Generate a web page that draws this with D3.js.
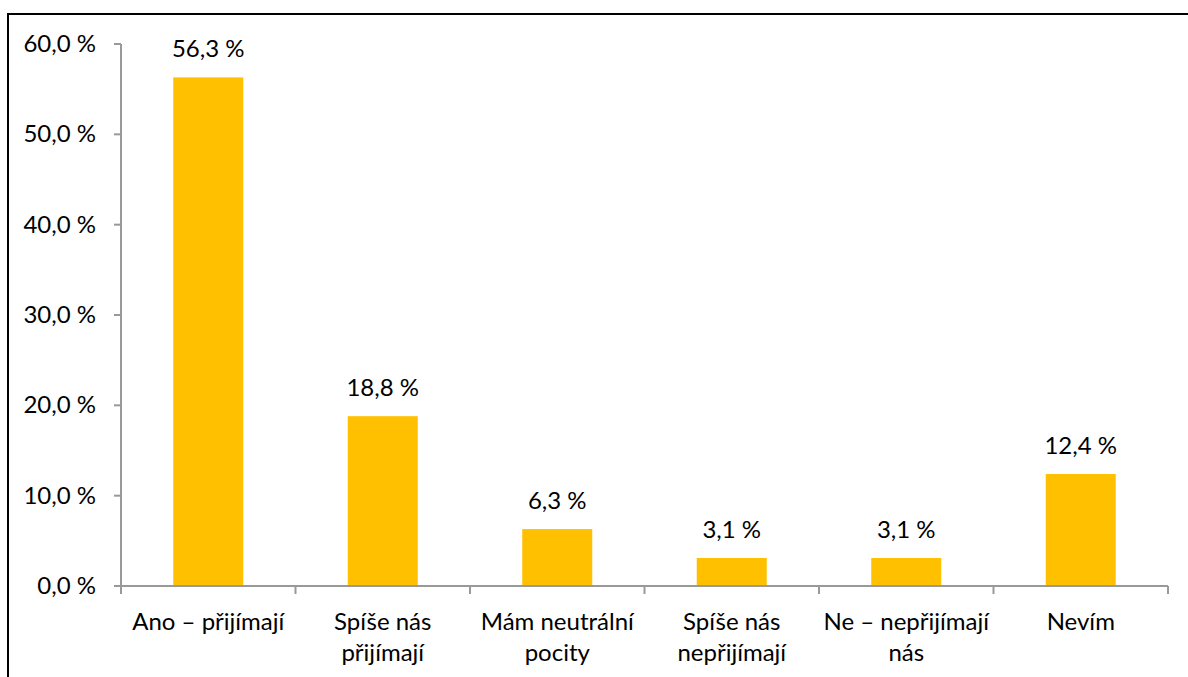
<!DOCTYPE html>
<head>
    <meta charset="utf-8">
    <script src="https://cdn.jsdelivr.net/npm/d3@7"></script>
    <style type="text/css">
     body { margin: 0; background: #fff; }
     text { font-family: Lato, "Open Sans", sans-serif; fill: #000; }
    </style>
</head>
<body>
    <script type="text/javascript">

     var categories = [["Ano – přijímají"], ["Spíše nás", "přijímají"], ["Mám neutrální", "pocity"],
		       ["Spíše nás", "nepřijímají"], ["Ne – nepřijímají", "nás"], ["Nevím"]];
     var values = [56.3, 18.8, 6.3, 3.1, 3.1, 12.4];
     var yTicks = [0, 10, 20, 30, 40, 50, 60];

     var w = 1188, h = 677;
     var fs = 24;
     var fmt = function(v){ return v.toFixed(1).replace(".", ",") + " %"; };

     var svg = d3.select("body").append("svg")
		 .attr("width", w).attr("height", h);

     // frame
     svg.append("rect")
	.attr("x", 8).attr("y", 14)
	.attr("width", w).attr("height", h)
	.attr("fill", "none").attr("stroke", "#000").attr("stroke-width", 2);

     var band = d3.scaleBand().domain(d3.range(categories.length)).range([121, 1168]);
     var y = d3.scaleLinear().domain([0, 60]).range([586, 44]);

     svg.selectAll("rect.bar")
	.data(values)
	.enter()
	.append("rect")
	.attr("class", "bar")
	.attr("x", function(d, i){ return band(i) + band.bandwidth()/2 - 35; })
	.attr("width", 70)
	.attr("y", function(d){ return y(d); })
	.attr("height", function(d){ return y(0) - y(d); })
	.attr("fill", "#FFC000");

     // y axis
     var ya = svg.append("g");
     ya.append("line").attr("x1", 121).attr("x2", 121)
       .attr("y1", y(60)).attr("y2", y(0)).attr("stroke", "#999").attr("stroke-width", 2);
     ya.selectAll("line.t").data(yTicks).enter().append("line")
       .attr("x1", 114).attr("x2", 121)
       .attr("y1", function(d){ return y(d); }).attr("y2", function(d){ return y(d); })
       .attr("stroke", "#999").attr("stroke-width", 2);
     ya.selectAll("text").data(yTicks).enter().append("text")
       .attr("x", 96).attr("y", function(d){ return y(d) + 8; })
       .attr("text-anchor", "end").attr("font-size", fs)
       .text(fmt);

     // x axis
     var xa = svg.append("g");
     xa.append("line").attr("x1", 114).attr("x2", 1168)
       .attr("y1", y(0)).attr("y2", y(0)).attr("stroke", "#999").attr("stroke-width", 2);
     xa.selectAll("line.t").data(d3.range(categories.length + 1)).enter().append("line")
       .attr("x1", function(i){ return 121 + i*band.bandwidth(); })
       .attr("x2", function(i){ return 121 + i*band.bandwidth(); })
       .attr("y1", y(0)).attr("y2", y(0) + 8)
       .attr("stroke", "#999").attr("stroke-width", 2);

     var lbl = xa.selectAll("text").data(categories).enter().append("text")
		 .attr("text-anchor", "middle").attr("font-size", fs)
		 .attr("transform", function(d, i){ return "translate(" + (band(i) + band.bandwidth()/2) + ",630)"; });
     lbl.selectAll("tspan").data(function(d){ return d; }).enter().append("tspan")
	.attr("x", 0).attr("y", function(d, i){ return i*31; })
	.text(function(d){ return d; });

     // data labels
     svg.selectAll("text.val").data(values).enter().append("text")
	.attr("class", "val")
	.attr("x", function(d, i){ return band(i) + band.bandwidth()/2; })
	.attr("y", function(d){ return y(d) - 20; })
	.attr("text-anchor", "middle").attr("font-size", fs)
	.text(fmt);

    </script>
</body>
